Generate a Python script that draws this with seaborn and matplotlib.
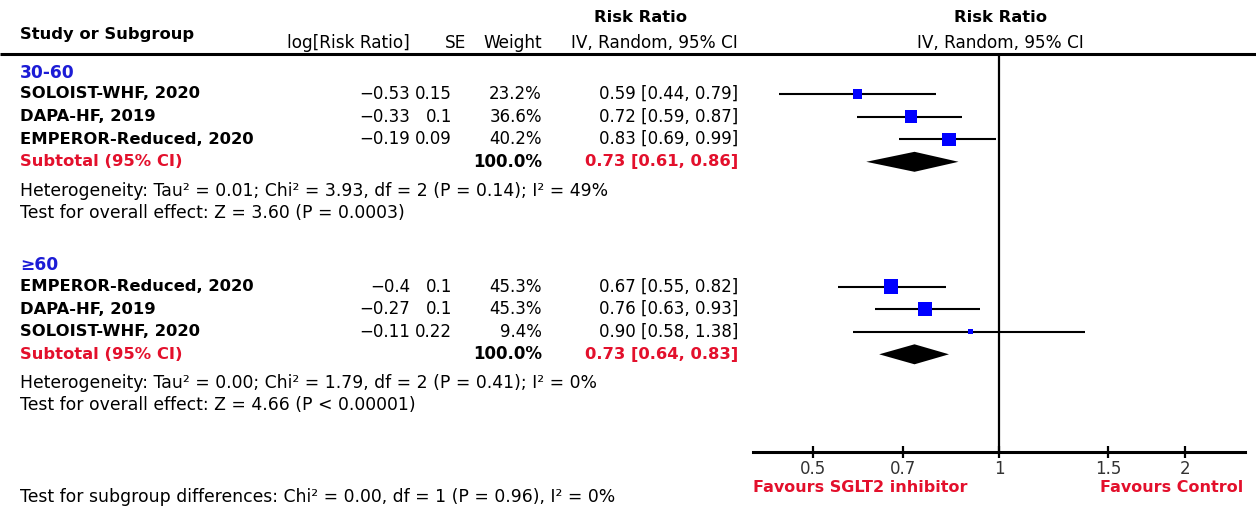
import matplotlib
matplotlib.use("Agg")
import matplotlib.pyplot as plt
import numpy as np
import pandas as pd
import seaborn as sns

# ---------------- data ----------------
groups = ["30-60", "≥60"]
study = ["SOLOIST-WHF, 2020", "DAPA-HF, 2019", "EMPEROR-Reduced, 2020",
         "EMPEROR-Reduced, 2020", "DAPA-HF, 2019", "SOLOIST-WHF, 2020"]
study_group = ["30-60", "30-60", "30-60", "≥60", "≥60", "≥60"]
log_rr = [-0.53, -0.33, -0.19, -0.4, -0.27, -0.11]
se = [0.15, 0.1, 0.09, 0.1, 0.1, 0.22]
weight = [23.2, 36.6, 40.2, 45.3, 45.3, 9.4]
rr = [0.59, 0.72, 0.83, 0.67, 0.76, 0.90]
ci_low = [0.44, 0.59, 0.69, 0.55, 0.63, 0.58]
ci_high = [0.79, 0.87, 0.99, 0.82, 0.93, 1.38]

sub_rr = [0.73, 0.73]
sub_low = [0.61, 0.64]
sub_high = [0.86, 0.83]
heterogeneity = [
    "Heterogeneity: Tau² = 0.01; Chi² = 3.93, df = 2 (P = 0.14); I² = 49%",
    "Heterogeneity: Tau² = 0.00; Chi² = 1.79, df = 2 (P = 0.41); I² = 0%",
]
overall_effect = [
    "Test for overall effect: Z = 3.60 (P = 0.0003)",
    "Test for overall effect: Z = 4.66 (P < 0.00001)",
]
subgroup_test = "Test for subgroup differences: Chi² = 0.00, df = 1 (P = 0.96), I² = 0%"

x_ticks = [0.5, 0.7, 1, 1.5, 2]
x_tick_labels = ["0.5", "0.7", "1", "1.5", "2"]
x_limits = (0.4, 2.5)
favours_left = "Favours SGLT2 inhibitor"
favours_right = "Favours Control"

# ---------------- styling / layout ----------------
sns.set_theme(style="white")
plt.rcParams["font.family"] = ["DejaVu Sans"]
plt.rcParams["text.color"] = "black"

W, H = 1256, 511
BLUE = "#1c1cd6"
RED = "#e3102c"
MARKER = "#0000ff"

fig = plt.figure(figsize=(W / 100, H / 100), dpi=100)

# overlay axes in pixel units for the table text
tx = fig.add_axes([0, 0, 1, 1])
tx.set_xlim(0, W)
tx.set_ylim(H, 0)
tx.axis("off")

# forest panel: x on log scale, y in pixel rows
AX_L, AX_R, AX_TOP, AX_BOT = 753, 1245, 55, 452
fx = fig.add_axes([AX_L / W, (H - AX_BOT) / H, (AX_R - AX_L) / W, (AX_BOT - AX_TOP) / H])

# row positions
group_head_y = [73, 265]
first_row_y = [94, 286.5]
row_step = 22.6

ypos = []
for gi, g in enumerate(groups):
    n = study_group.count(g)
    ypos += [first_row_y[gi] + k * row_step for k in range(n)]
sub_y = [first_row_y[gi] + study_group.count(g) * row_step for gi, g in enumerate(groups)]

df = pd.DataFrame({
    "study": study, "group": study_group, "log_rr": log_rr, "se": se,
    "weight": weight, "rr": rr, "lo": ci_low, "hi": ci_high, "y": ypos,
})

FS = 12            # numbers
FS_HEAD = 12.2     # column headers
FS_NAME = 11.8     # bold row labels
FS_NOTE = 12.4     # heterogeneity / test lines
NAME_X = 20
COL_LOG, COL_SE, COL_W, COL_CI = 410, 452, 542, 738

def minus(v):
    return f"{v:g}".replace("-", "−")

# header
tx.text(NAME_X, 35, "Study or Subgroup", fontsize=FS_NAME, fontweight="bold", va="center", ha="left")
tx.text(641, 18, "Risk Ratio", fontsize=FS_NAME, fontweight="bold", va="center", ha="center")
tx.text(COL_LOG, 43, "log[Risk Ratio]", fontsize=FS_HEAD, va="center", ha="right")
tx.text(466, 43, "SE", fontsize=FS_HEAD, va="center", ha="right")
tx.text(COL_W, 43, "Weight", fontsize=FS_HEAD, va="center", ha="right")
tx.text(COL_CI, 43, "IV, Random, 95% CI", fontsize=FS_HEAD, va="center", ha="right")
tx.text(1000, 18, "Risk Ratio", fontsize=FS_NAME, fontweight="bold", va="center", ha="center")
tx.text(1000, 43, "IV, Random, 95% CI", fontsize=FS_HEAD, va="center", ha="center")
tx.plot([0, W], [54, 54], color="black", lw=2.2, solid_capstyle="butt")

# table body
for gi, g in enumerate(groups):
    tx.text(NAME_X, group_head_y[gi], g, fontsize=12.3, fontweight="bold", color=BLUE,
            va="center", ha="left")
    sub = df[df["group"] == g]
    for _, r in sub.iterrows():
        tx.text(NAME_X, r["y"], r["study"], fontsize=FS_NAME, fontweight="bold", va="center", ha="left")
        tx.text(COL_LOG, r["y"], minus(r["log_rr"]), fontsize=FS, va="center", ha="right")
        tx.text(COL_SE, r["y"], f"{r['se']:g}", fontsize=FS, va="center", ha="right")
        tx.text(COL_W, r["y"], f"{r['weight']:.1f}%", fontsize=FS, va="center", ha="right")
        tx.text(COL_CI, r["y"], f"{r['rr']:.2f} [{r['lo']:.2f}, {r['hi']:.2f}]",
                fontsize=FS, va="center", ha="right")
    sy = sub_y[gi]
    tx.text(NAME_X, sy, "Subtotal (95% CI)", fontsize=FS_NAME, fontweight="bold", color=RED,
            va="center", ha="left")
    tx.text(COL_W, sy, f"{sub['weight'].sum():.1f}%", fontsize=FS, fontweight="bold",
            va="center", ha="right")
    tx.text(COL_CI, sy, f"{sub_rr[gi]:.2f} [{sub_low[gi]:.2f}, {sub_high[gi]:.2f}]",
            fontsize=FS_NAME, fontweight="bold", color=RED, va="center", ha="right")
    tx.text(NAME_X, sy + 29, heterogeneity[gi], fontsize=FS_NOTE, va="center", ha="left")
    tx.text(NAME_X, sy + 51, overall_effect[gi], fontsize=FS_NOTE, va="center", ha="left")

tx.text(NAME_X, 497, subgroup_test, fontsize=FS_NOTE, va="center", ha="left")

# forest plot marks
fx.hlines(df["y"], df["lo"], df["hi"], color="black", lw=1.5, zorder=2)
sns.scatterplot(data=df, x="rr", y="y", size="weight", sizes=(13, 102), marker="s",
                color=MARKER, linewidth=0, legend=False, ax=fx, zorder=3)
for gi in range(len(groups)):
    sy = sub_y[gi]
    fx.fill([sub_low[gi], sub_rr[gi], sub_high[gi], sub_rr[gi]],
            [sy, sy - 10, sy, sy + 10], color="black", lw=0, zorder=3)
fx.axvline(1, color="black", lw=1.6, zorder=1)

fx.set_xscale("log")
fx.set_xlim(*x_limits)
fx.set_ylim(AX_BOT, AX_TOP)
fx.set_xticks(x_ticks)
fx.set_xticklabels(x_tick_labels)
fx.xaxis.set_minor_locator(matplotlib.ticker.NullLocator())
fx.set_yticks([])
fx.set_xlabel("")
fx.set_ylabel("")
fx.set_facecolor("none")
for side in ["top", "right", "left"]:
    fx.spines[side].set_visible(False)
fx.spines["bottom"].set_linewidth(2.2)
fx.spines["bottom"].set_color("black")
fx.tick_params(axis="x", direction="inout", length=9, width=1.6, color="black",
               labelsize=12, labelcolor="#333333", pad=1, bottom=True)

tx.text(AX_L, 487, favours_left, fontsize=11.5, fontweight="bold", color=RED, va="center", ha="left")
tx.text(1243, 487, favours_right, fontsize=11.5, fontweight="bold", color=RED, va="center", ha="right")

fig.savefig("out.png", dpi=100)
